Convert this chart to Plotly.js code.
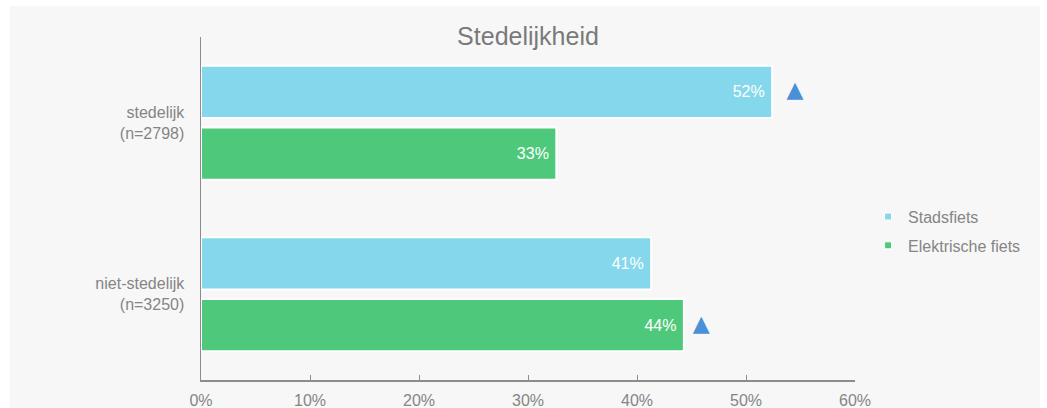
<!DOCTYPE html>
<html>
<head>
<meta charset="utf-8">
<script src="https://cdn.plot.ly/plotly-3.0.1.min.js"></script>
<style>
  html, body { margin: 0; padding: 0; background: #ffffff; }
  #chart { position: absolute; left: 10px; top: 6px; width: 1030px; height: 402px; }
</style>
</head>
<body>
<div id="chart"></div>
<script>
// ---- data ----
const categories = ['stedelijk<br>(n=2798)', 'niet-stedelijk<br>(n=3250)'];
const seriesNames = ['Stadsfiets', 'Elektrische fiets'];
const stadsfiets = [52.4, 41.3];
const elektrisch = [32.6, 44.3];
// significance triangles: x position (null = none)
const triStadsfiets = [54.5, null];
const triElektrisch = [null, 45.9];
const xTickVals = [0, 10, 20, 30, 40, 50, 60];
const xTickText = ['0%', '10%', '20%', '30%', '40%', '50%', '60%'];

const colors = ['#85d8ec', '#4ec97b'];
const triColor = '#4a90d9';
const greyText = '#858585';
const FONT = 'Liberation Sans, Arial, sans-serif';

function barTrace(name, vals, color, idx) {
  return {
    type: 'bar', orientation: 'h', name: name,
    y: categories, x: vals,
    marker: { color: color, line: { color: '#ffffff', width: 2 } },
    text: vals.map(v => Math.round(v) + '%\u00a0'),
    textposition: 'inside', insidetextanchor: 'end',
    textfont: { color: '#ffffff', size: 16, family: FONT },
    offsetgroup: String(idx), alignmentgroup: 'a',
    showlegend: false,
    hoverinfo: 'skip'
  };
}
function triTrace(xs, idx) {
  return {
    type: 'scatter', mode: 'text', orientation: 'h',
    y: categories, x: xs,
    text: xs.map(v => v === null ? '' : '\u25B2'),
    textposition: 'middle center',
    textfont: { family: 'DejaVu Sans', size: 22, color: triColor },
    offsetgroup: String(idx), alignmentgroup: 'a',
    showlegend: false, hoverinfo: 'skip', cliponaxis: false
  };
}
function legendTrace(name, color, idx) {
  return {
    type: 'scatter', mode: 'markers', orientation: 'h', name: name,
    y: [null], x: [null],
    marker: { symbol: 'square', size: 7, color: color, line: { color: '#ffffff', width: 1 } },
    offsetgroup: String(idx), alignmentgroup: 'a',
    legendgroup: 'g' + idx, showlegend: true, hoverinfo: 'skip'
  };
}

const data = [
  barTrace(seriesNames[0], stadsfiets, colors[0], 0),
  barTrace(seriesNames[1], elektrisch, colors[1], 1),
  triTrace(triStadsfiets, 0),
  triTrace(triElektrisch, 1),
  legendTrace(seriesNames[0], colors[0], 0),
  legendTrace(seriesNames[1], colors[1], 1)
];

const layout = {
  width: 1030, height: 402,
  paper_bgcolor: '#f7f7f7', plot_bgcolor: '#f7f7f7',
  margin: { l: 191, r: 185, t: 31, b: 28 },
  font: { family: FONT, color: greyText, size: 16 },
  title: { text: 'Stedelijkheid', font: { size: 25, color: '#7a7a7a', family: FONT },
           x: 0.5, xref: 'paper', xanchor: 'center', y: 0.925, yref: 'container', yanchor: 'middle' },
  barmode: 'group', bargap: 0.28, bargroupgap: 0.157,
  scattermode: 'group', scattergap: 0.28,
  xaxis: {
    range: [0, 60], tickvals: xTickVals, ticktext: xTickText,
    showgrid: false, zeroline: false,
    showline: true, linecolor: '#8c8c8c', linewidth: 1.5,
    ticks: 'inside', ticklen: 5, tickcolor: '#8c8c8c',
    ticklabelstandoff: 5,
    tickfont: { size: 16, color: greyText }, fixedrange: true
  },
  yaxis: {
    type: 'category', autorange: 'reversed',
    showgrid: false, zeroline: false,
    showline: true, linecolor: '#8c8c8c', linewidth: 1.5,
    ticks: '', ticklabelstandoff: 12,
    tickfont: { size: 16, color: greyText }, fixedrange: true
  },
  showlegend: true,
  legend: {
    x: 1.02, xanchor: 'left', y: 0.434, yanchor: 'middle',
    bgcolor: 'rgba(0,0,0,0)', font: { size: 16, color: greyText },
    traceorder: 'grouped', tracegroupgap: 5
  }
};

Plotly.newPlot('chart', data, layout, { displayModeBar: false, staticPlot: true });
</script>
</body>
</html>
